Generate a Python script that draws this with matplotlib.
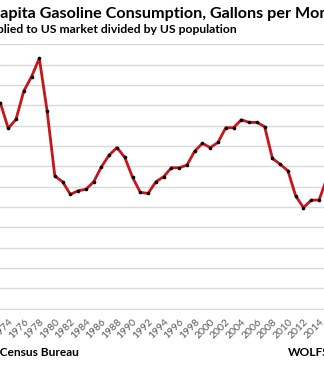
import matplotlib
matplotlib.use("Agg")
from matplotlib import pyplot as plt

# per capita gasoline consumption, gallons per month
years = list(range(1973, 2016))
gallons = [40.10, 38.87, 39.31, 40.70, 41.41, 42.31, 39.73, 36.52, 36.24, 35.62,
           35.80, 35.87, 36.24, 36.98, 37.56, 37.92, 37.44, 36.46, 35.72, 35.67,
           36.24, 36.49, 36.93, 36.93, 37.06, 37.75, 38.13, 37.92, 38.18, 38.90,
           38.90, 39.29, 39.16, 39.16, 38.95, 37.39, 37.10, 36.78, 35.54, 34.97,
           35.34, 35.34, 36.40]
tick_years = list(range(1972, 2018, 2))

plt.rcParams["font.family"] = ["Lato", "DejaVu Sans"]

fig = plt.figure(figsize=(3.24, 3.68), dpi=100)
ax = fig.add_axes([0, 0.1611, 1, 0.7185])

ax.plot(years, gallons, color="#C8141B", lw=2.0, marker="o", ms=1.6,
        mfc="black", mec="black", zorder=3)

ax.set_yticks(range(30, 44))
ax.yaxis.grid(True, color="#D9D9D9", lw=1)
ax.set_axisbelow(True)
ax.tick_params(axis="y", length=0, labelsize=7, colors="#595959")

ax.set_xticks(tick_years)
ax.set_xticklabels([str(y) for y in tick_years], rotation=45, ha="right",
                   rotation_mode="anchor", fontsize=7.5, color="#595959")
ax.tick_params(axis="x", length=0, pad=6)

# limits after ticks, otherwise set_xticks widens them
ax.set_xlim(1972.94, 2014.64)
ax.set_ylim(30, 43)

for s in ["top", "left", "right"]:
    ax.spines[s].set_visible(False)
ax.spines["bottom"].set_color("#D9D9D9")

fig.text(-0.121, 0.962, "Per Capita Gasoline Consumption, Gallons per Month",
         ha="left", va="center", fontsize=11.6, fontweight="bold")
fig.text(0.731, 0.921, "Gasoline supplied to US market divided by US population",
         ha="right", va="center", fontsize=8.7, fontweight="bold")
fig.text(0.244, 0.043, "Data: EIA, Census Bureau", ha="right", va="center",
         fontsize=8.6, fontweight="bold")
fig.text(0.889, 0.043, "WOLFSTREET.com", ha="left", va="center",
         fontsize=8.6, fontweight="bold")

fig.savefig("out.png", dpi=100)
